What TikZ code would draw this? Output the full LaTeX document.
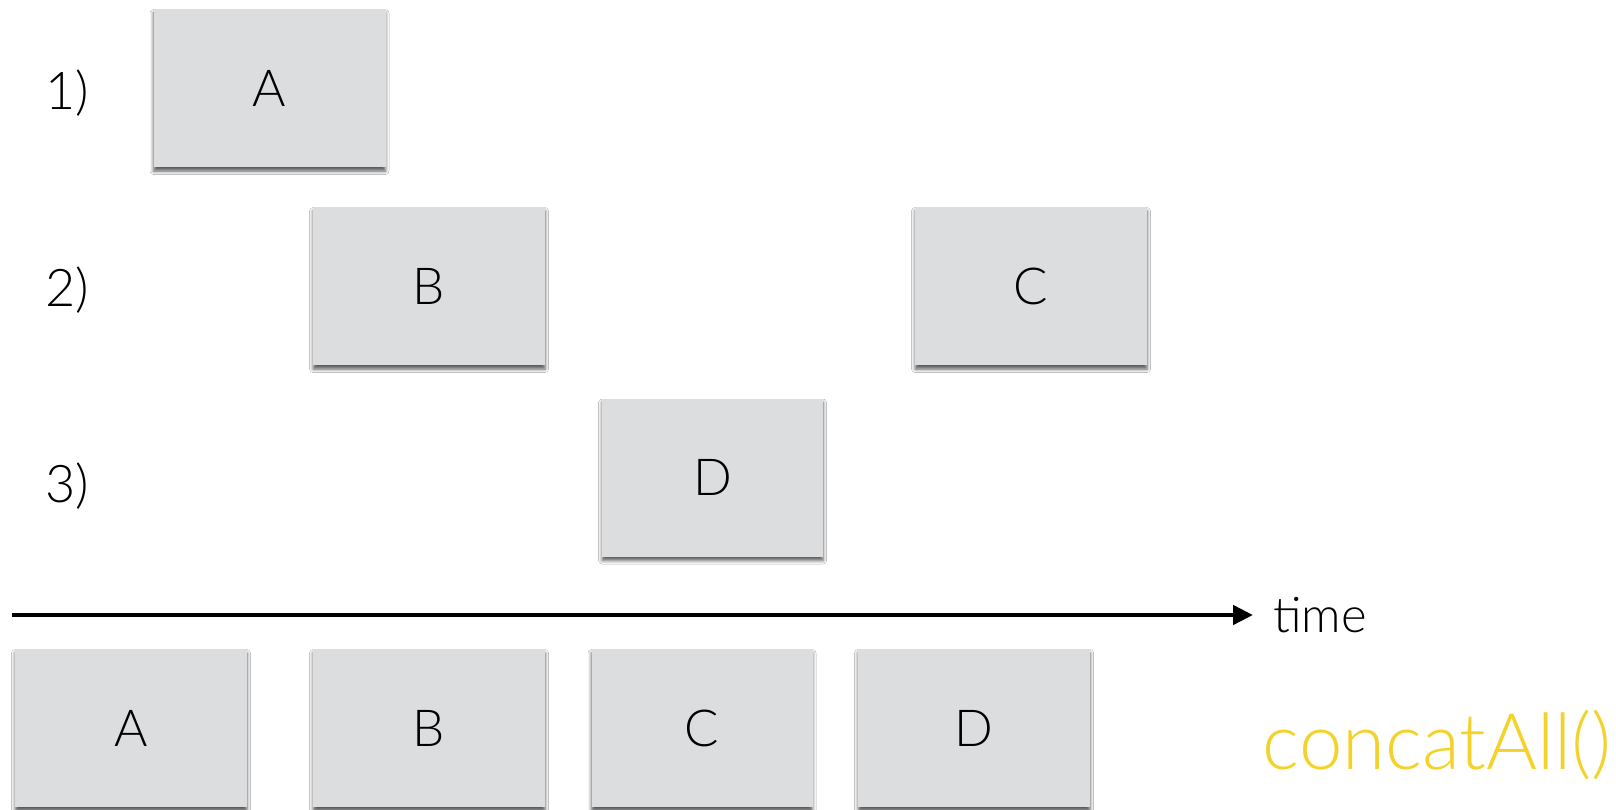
\documentclass[tikz,border=0pt]{standalone}
\usepackage{fontspec}
\setmainfont{Lato Light}
\usetikzlibrary{arrows.meta, positioning, shadows.blur}
\definecolor{boxgray}{HTML}{DCDDDF}
\definecolor{opyellow}{HTML}{F4D22C}

\begin{document}
\begin{tikzpicture}[
    x=1pt, y=-1pt,
    box/.style={rectangle, fill=boxgray, minimum width=232pt, minimum height=158pt, inner sep=0pt,
        font=\fontsize{51}{60}\selectfont,
        blur shadow={shadow xshift=0pt, shadow yshift=-4pt, shadow blur radius=3.5pt, shadow opacity=65}},
    narrowbox/.style={box, minimum width=221pt},
    rowlabel/.style={inner sep=0pt, font=\fontsize{52}{60}\selectfont},
    >={Triangle[length=20pt, width=19pt]}
]
\fill[white] (0,0) rectangle (1616,810);
\useasboundingbox (0,0) rectangle (1616,810);

% Input streams
\node[rowlabel] (row1) at (67,93) {1)};
\node[rowlabel] (row2) at (67,290) {2)};
\node[rowlabel] (row3) at (67,486) {3)};

\node[box] (inA) at (269.5,88) {A};
\node[box] (inB) at (429,286) {B};
\node[box] (inC) at (1031,286) {C};
\node[narrowbox] (inD) at (712.5,477.5) {D};

% Time axis
\coordinate (tstart) at (12,615);
\coordinate (tend) at (1253,615);
\draw[->, line width=4.5pt] (tstart) -- (tend);
\node[right=20pt of tend, inner sep=0pt, font=\fontsize{49}{56}\selectfont] (time) {time};

% Output stream
\node[box] (outA) at (131,728) {A};
\node[box] (outB) at (429,728) {B};
\node[narrowbox] (outC) at (702,728) {C};
\node[box] (outD) at (974,728) {D};

\node[anchor=east, inner sep=0pt, text=opyellow, font=\fontsize{78}{86}\selectfont] (op) at (1612,745) {concatAll()};

\end{tikzpicture}
\end{document}
